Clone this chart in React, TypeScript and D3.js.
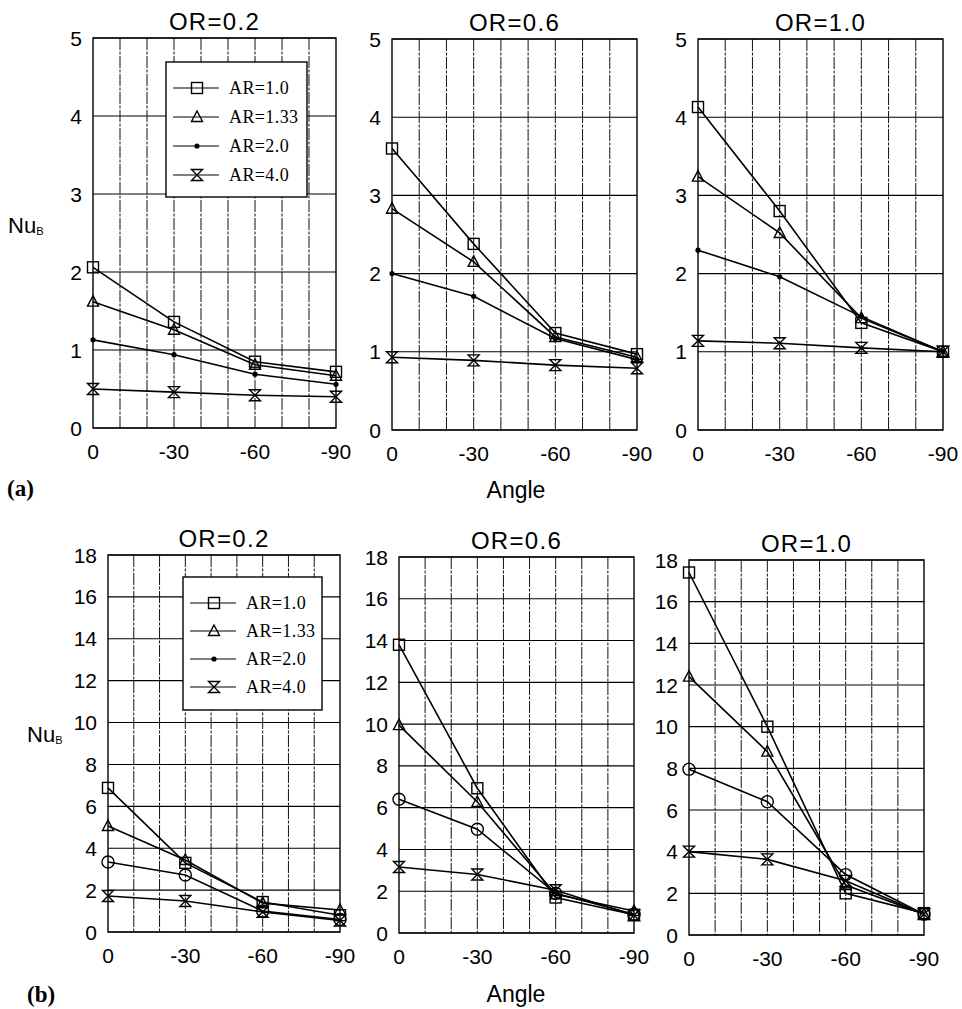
import React from "react";
import * as d3 from "d3";

// ---------- data ----------
const angles = [0, -30, -60, -90];
const seriesNames = ["AR=1.0", "AR=1.33", "AR=2.0", "AR=4.0"];
const panelTitles = ["OR=0.2", "OR=0.6", "OR=1.0"];
const topTicks = [0, 1, 2, 3, 4, 5];
const bottomTicks = [0, 2, 4, 6, 8, 10, 12, 14, 16, 18];
const xTicks = [0, -30, -60, -90];

// (a) rows: AR=1.0, AR=1.33, AR=2.0, AR=4.0 ; values at angles 0,-30,-60,-90
const aOR02 = [
  [2.06, 1.36, 0.85, 0.72],
  [1.62, 1.26, 0.81, 0.67],
  [1.13, 0.94, 0.69, 0.56],
  [0.5, 0.46, 0.42, 0.4],
];
const aOR06 = [
  [3.6, 2.38, 1.24, 0.97],
  [2.83, 2.15, 1.19, 0.93],
  [2.0, 1.71, 1.17, 0.9],
  [0.93, 0.89, 0.83, 0.79],
];
const aOR10 = [
  [4.13, 2.8, 1.37, 1.0],
  [3.24, 2.52, 1.43, 1.0],
  [2.3, 1.96, 1.45, 1.0],
  [1.14, 1.11, 1.05, 1.0],
];
// (b)
const bOR02 = [
  [6.88, 3.3, 1.43, 0.8],
  [5.06, 3.44, 1.38, 1.05],
  [3.34, 2.72, 1.0, 0.6],
  [1.72, 1.48, 0.96, 0.55],
];
const bOR06 = [
  [13.8, 6.93, 1.7, 0.87],
  [9.95, 6.27, 1.85, 1.05],
  [6.4, 4.97, 1.9, 0.9],
  [3.16, 2.8, 2.05, 0.85],
];
const bOR10 = [
  [17.4, 10.0, 2.0, 1.05],
  [12.4, 8.8, 2.4, 1.0],
  [7.96, 6.4, 2.9, 1.0],
  [4.0, 3.63, 2.6, 1.0],
];

// ---------- layout ----------
type Panel = {
  data: number[][];
  title: string;
  left: number;
  right: number;
  top: number;
  bottom: number;
  ticks: number[];
  yMax: number;
  circle: boolean;
  legend?: { x: number; y: number; w: number; h: number; row0: number; rowStep: number };
};

const panels: Panel[] = [
  { data: aOR02, title: panelTitles[0], left: 93, right: 336, top: 38, bottom: 428, ticks: topTicks, yMax: 5, circle: false,
    legend: { x: 166, y: 62, w: 141, h: 135, row0: 88, rowStep: 29 } },
  { data: aOR06, title: panelTitles[1], left: 392, right: 637, top: 39, bottom: 430, ticks: topTicks, yMax: 5, circle: false },
  { data: aOR10, title: panelTitles[2], left: 698, right: 943, top: 39, bottom: 430, ticks: topTicks, yMax: 5, circle: false },
  { data: bOR02, title: panelTitles[0], left: 108, right: 340, top: 555, bottom: 932, ticks: bottomTicks, yMax: 18, circle: true,
    legend: { x: 183, y: 577, w: 139, h: 133, row0: 603, rowStep: 28 } },
  { data: bOR06, title: panelTitles[1], left: 399, right: 634, top: 557, bottom: 933, ticks: bottomTicks, yMax: 18, circle: true },
  { data: bOR10, title: panelTitles[2], left: 689, right: 924, top: 560, bottom: 935, ticks: bottomTicks, yMax: 18, circle: true },
];

const SANS = "'Liberation Sans', Arial, Helvetica, sans-serif";
const SERIF = "'Liberation Serif', 'Times New Roman', serif";

function Marker({ kind, x, y, circle }: { kind: number; x: number; y: number; circle: boolean }) {
  const s = 5.5;
  if (kind === 0)
    return <rect x={x - s} y={y - s} width={2 * s} height={2 * s} fill="none" stroke="#000" strokeWidth={1.4} />;
  if (kind === 1)
    return (
      <path d={`M${x},${y - s - 0.5}L${x + s},${y + s - 1}L${x - s},${y + s - 1}Z`} fill="none" stroke="#000" strokeWidth={1.4} />
    );
  if (kind === 2)
    return circle ? (
      <circle cx={x} cy={y} r={6} fill="none" stroke="#000" strokeWidth={1.4} />
    ) : (
      <circle cx={x} cy={y} r={2.6} fill="#000" />
    );
  return (
    <path
      d={`M${x - s},${y - s}L${x + s},${y - s}L${x - s},${y + s}L${x + s},${y + s}Z`}
      fill="none"
      stroke="#000"
      strokeWidth={1.4}
    />
  );
}

function PanelView({ p }: { p: Panel }) {
  const x = d3.scaleLinear().domain([0, -90]).range([p.left, p.right]);
  const y = d3.scaleLinear().domain([0, p.yMax]).range([p.bottom, p.top]);
  const line = d3
    .line<number>()
    .x((_, i) => x(angles[i]))
    .y((v) => y(v));
  const vgrid = d3.range(-10, -90, -10);
  const cx = (p.left + p.right) / 2;
  return (
    <g>
      {/* horizontal grid */}
      {p.ticks.map((t) => (
        <line key={"h" + t} x1={p.left} x2={p.right} y1={y(t)} y2={y(t)} stroke="#000" strokeWidth={1.1} />
      ))}
      {/* vertical grid */}
      {vgrid.map((t) => (
        <line key={"v" + t} x1={x(t)} x2={x(t)} y1={p.top} y2={p.bottom} stroke="#111" strokeWidth={1} strokeDasharray="12 1.5 3 1.5" />
      ))}
      <rect x={p.left} y={p.top} width={p.right - p.left} height={p.bottom - p.top} fill="none" stroke="#000" strokeWidth={1.4} />
      {/* y tick labels */}
      {p.ticks.map((t) => (
        <text key={"yl" + t} x={p.left - 11} y={y(t)} dy="0.36em" textAnchor="end" fontFamily={SANS} fontSize={21} fill="#000">
          {t}
        </text>
      ))}
      {/* x tick labels */}
      {xTicks.map((t) => (
        <text key={"xl" + t} x={x(t)} y={p.bottom + 31} textAnchor="middle" fontFamily={SANS} fontSize={21} fill="#000">
          {t === 0 ? "0" : "-" + Math.abs(t)}
        </text>
      ))}
      {/* title */}
      <text x={cx} y={p.top - 8} textAnchor="middle" fontFamily={SANS} fontSize={24} letterSpacing={1.3} fill="#000">
        {p.title}
      </text>
      {/* series */}
      {p.data.map((vals, si) => (
        <g key={"s" + si}>
          <path d={line(vals) || ""} fill="none" stroke="#000" strokeWidth={1.6} />
          {vals.map((v, i) => (
            <Marker key={i} kind={si} x={x(angles[i])} y={y(v)} circle={p.circle} />
          ))}
        </g>
      ))}
      {/* legend */}
      {p.legend && (
        <g>
          <rect x={p.legend.x} y={p.legend.y} width={p.legend.w} height={p.legend.h} fill="#fff" stroke="#000" strokeWidth={1.4} />
          {seriesNames.map((n, i) => {
            const ry = p.legend!.row0 + i * p.legend!.rowStep;
            const lx = p.legend!.x + 7;
            return (
              <g key={n}>
                <line x1={lx} x2={lx + 46} y1={ry} y2={ry} stroke="#000" strokeWidth={1.2} />
                <Marker kind={i} x={lx + 24} y={ry} circle={false} />
                <text x={lx + 56} y={ry} dy="0.35em" fontFamily={SERIF} fontSize={18} letterSpacing={0.4} fill="#000">
                  {n}
                </text>
              </g>
            );
          })}
        </g>
      )}
    </g>
  );
}

export default function App() {
  return (
    <svg
      width={962}
      height={1009}
      style={{ position: "absolute", left: 0, top: 0, background: "#fff" }}
      xmlns="http://www.w3.org/2000/svg"
    >
      <rect x={0} y={0} width={962} height={1009} fill="#fff" />
      {panels.map((p, i) => (
        <PanelView key={i} p={p} />
      ))}
      {/* y axis labels */}
      <text x={8} y={233} fontFamily={SANS} fontSize={22} fill="#000">
        Nu<tspan fontSize={11} dy={2}>B</tspan>
      </text>
      <text x={27} y={742} fontFamily={SANS} fontSize={22} fill="#000">
        Nu<tspan fontSize={11} dy={2}>B</tspan>
      </text>
      {/* x axis labels */}
      <text x={516} y={498} textAnchor="middle" fontFamily={SANS} fontSize={23} fill="#000">Angle</text>
      <text x={516} y={1002} textAnchor="middle" fontFamily={SANS} fontSize={23} fill="#000">Angle</text>
      {/* panel group labels */}
      <text x={7} y={496} fontFamily={SERIF} fontWeight="bold" fontSize={23} fill="#000">(a)</text>
      <text x={27} y={1002} fontFamily={SERIF} fontWeight="bold" fontSize={23} fill="#000">(b)</text>
    </svg>
  );
}
